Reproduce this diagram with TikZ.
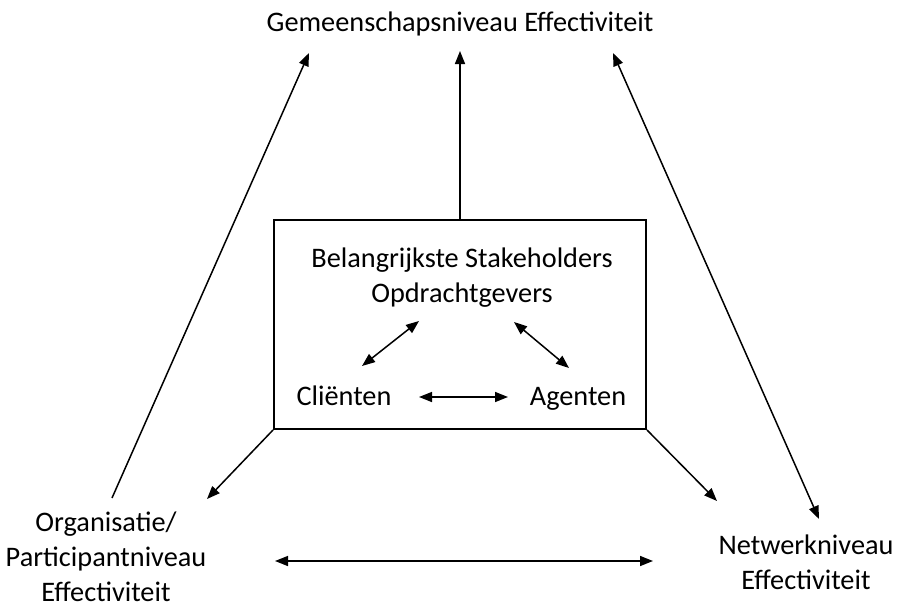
\documentclass[tikz,border=0pt]{standalone}
\usepackage{fontspec}
\setmainfont{Carlito}
\usetikzlibrary{arrows.meta}
\begin{document}
\begin{tikzpicture}[x=1pt,y=-1pt,
  lbl/.style={font=\fontsize{28.3}{35}\selectfont, inner sep=0pt, align=center, anchor=base},
  conn/.style={line width=1.5pt, -{Triangle[length=13pt,width=10pt]}},
  dconn/.style={line width=1.5pt, {Triangle[length=13pt,width=10pt]}-{Triangle[length=13pt,width=10pt]}}]
\useasboundingbox (0,0) rectangle (903,608);
% texts
\node[lbl] (top) at (460,31) {Gemeenschapsniveau Effectiviteit};
\node[draw, line width=2pt, minimum width=372pt, minimum height=209pt, inner sep=0pt] (box) at (460,324.5) {};
\node[lbl] (bel) at (462,267) {Belangrijkste Stakeholders};
\node[lbl] (opd) at (462,302) {Opdrachtgevers};
\node[lbl] (cli) at (344,405) {Cliënten};
\node[lbl] (age) at (578,405) {Agenten};
\node[lbl] (org) at (106,601) {Organisatie/\\Participantniveau\\Effectiviteit};
\node[lbl] (net) at (806,589) {Netwerkniveau\\Effectiviteit};
% coordinates
\coordinate (c1a) at (362,366);
\coordinate (c1b) at (419,321);
\coordinate (c2a) at (514,322);
\coordinate (c2b) at (569,368);
\coordinate (c3a) at (419,397);
\coordinate (c3b) at (508,397);
\coordinate (upTop) at (460,51);
\coordinate (lBot) at (112,498);
\coordinate (lTop) at (309,53);
\coordinate (rTop) at (613,53);
\coordinate (rBot) at (819,519);
\coordinate (blEnd) at (207,499);
\coordinate (brEnd) at (717,501);
\coordinate (hL) at (275,561);
\coordinate (hR) at (653,561);
% connectors
\draw[dconn] (c1a) -- (c1b);
\draw[dconn] (c2a) -- (c2b);
\draw[dconn] (c3a) -- (c3b);
\draw[conn] (box.north) -- (upTop);
\draw[conn] (lBot) -- (lTop);
\draw[dconn] (rTop) -- (rBot);
\draw[conn] (box.south west) -- (blEnd);
\draw[conn] (box.south east) -- (brEnd);
\draw[dconn] (hL) -- (hR);
\end{tikzpicture}
\end{document}
